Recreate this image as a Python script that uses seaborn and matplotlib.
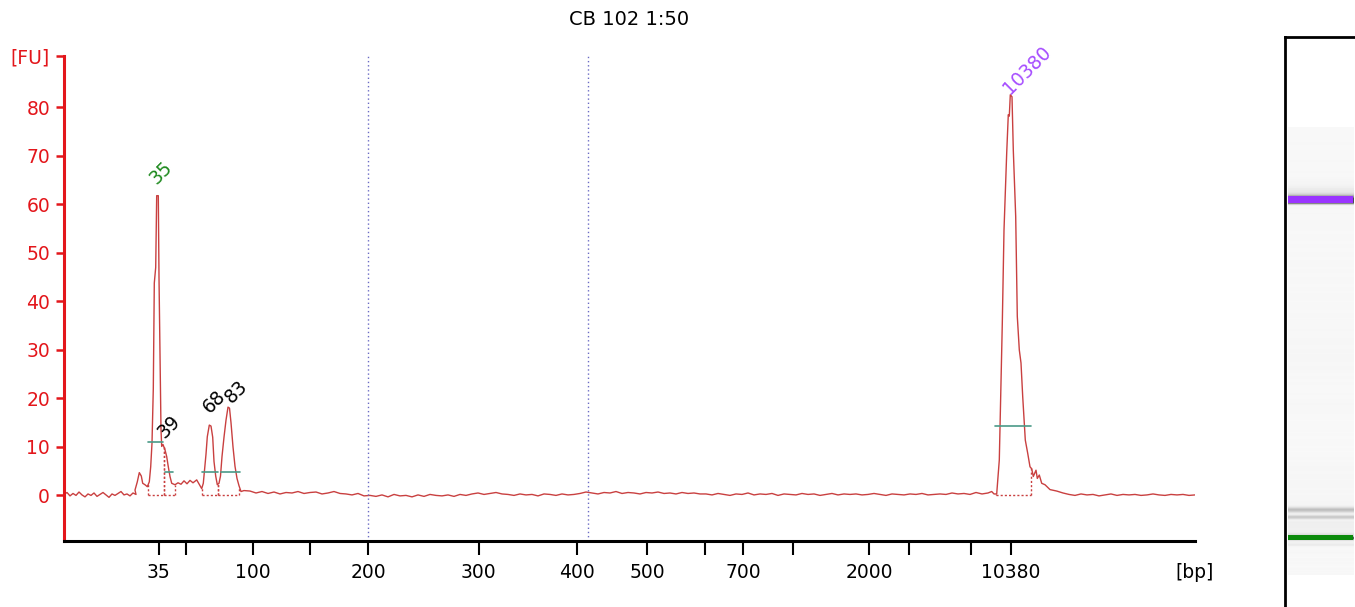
import numpy as np
import pandas as pd
import matplotlib
matplotlib.use("Agg")
import matplotlib.pyplot as plt
import matplotlib.transforms as mtransforms
import seaborn as sns

# position along the run (0 = left end of the window), ladder sizes at each position
ladder_pos = [94.5, 122, 188.5, 246, 304, 414.6, 513, 583, 641, 679, 729, 805, 845, 907, 947]
ladder_bp = [35, 50, 100, 150, 200, 300, 400, 500, 600, 700, 1000, 2000, 3000, 7000, 10380]
ladder_shown = [35, 100, 200, 300, 400, 500, 700, 2000, 10380]

# region markers (dotted vertical lines)
region_pos = [304, 524]

# trace: baseline before the lower marker (start 0, every 3)
base_left = [0.2, 0.6, -0.1, 0.4, 0.0, 0.7, 0.1, -0.3, 0.3, 0.0, 0.5, -0.2, 0.2, 0.6, 0.1,
             -0.4, 0.3, 0.0, 0.4, 0.8, 0.1, 0.3, -0.1, 0.5, 0.2]

# lower marker + small fragments
peaks_low_pos = [71, 73.3, 75.3, 77.3, 78.7, 81, 83.3, 85.3, 86.7, 88, 89.3, 90.3, 91.7, 92.7,
                 94.3, 95, 96, 97, 97.7, 99, 101, 102.7, 104.3, 106, 107.7, 111, 114, 117,
                 120, 123, 126, 129, 132.7, 136, 137.7, 139.3, 142, 143.3, 145.3, 147, 148.7,
                 150, 151.7, 153.3, 155, 156.5, 158, 160, 162, 164, 165.5, 167, 169, 171,
                 173, 175, 177, 180]
peaks_low_fu = [1.1, 2.8, 4.7, 4.0, 2.5, 2.2, 1.8, 2.8, 5.9, 10.8, 22, 43.8, 47, 61.8,
                61.8, 45, 30, 13.5, 10.1, 10.5, 9.4, 8, 5.9, 3.9, 2.5, 2.2, 2.6, 2.3,
                3.0, 2.4, 3.1, 2.6, 3.2, 2.0, 1.4, 2.5, 8.5, 12.1, 14.5, 14.3, 12,
                7, 4, 2.2, 2.5, 4.0, 8, 12, 15.5, 18.2, 18.0, 15, 10, 6,
                3.5, 2.0, 0.8, 1.0]

# baseline in the middle of the run (start 186, every 6)
base_mid = [0.9, 0.5, 0.8, 0.4, 0.7, 0.3, 0.6, 0.5, 0.8, 0.4, 0.6, 0.7, 0.3, 0.5, 0.8, 0.4,
            0.3, 0.1, 0.4, -0.1, 0.0,
            -0.2, 0.1, -0.3, 0.2, -0.1, 0.0, -0.3, 0.1, -0.2, 0.2, 0.0, -0.1, 0.1, -0.2, 0.2, 0.0,
            0.3, 0.5, 0.2, 0.4, 0.6, 0.3,
            0.2, 0.0, 0.3, 0.1, 0.2, -0.1, 0.3, 0.2, 0.0, 0.3, 0.1, 0.2,
            0.4, 0.7, 0.5, 0.3, 0.6, 0.5, 0.8, 0.4, 0.6, 0.5, 0.3, 0.6, 0.5, 0.7, 0.4, 0.5,
            0.3, 0.6, 0.4, 0.5, 0.3,
            0.3, 0.1, 0.4, 0.2, 0.0, 0.3, 0.2, 0.5, 0.1, 0.3,
            0.2, 0.4, 0.0, 0.3, 0.2, 0.1, 0.4, 0.2, 0.3, 0.0,
            0.2, 0.4, 0.1, 0.3, 0.2, 0.3, 0.1, 0.2, 0.4, 0.2,
            0.0, 0.3, 0.2, 0.1, 0.3, 0.2, 0.4, 0.1, 0.2, 0.3,
            0.2, 0.5, 0.3, 0.4, 0.2, 0.6, 0.3, 0.5]

# upper marker 10380
upper_pos = [927.7, 930, 932.7, 935.3, 936.7, 938.3, 940, 942.7, 944.3, 945.3, 946.3, 948,
             949.3, 951.7, 953.3, 955.3, 957, 958.7, 961.3, 963.7, 966, 967.7, 969.3, 972,
             973.3, 975.3, 977.7, 981, 986, 992.7, 999]
upper_fu = [0.8, 0.3, 0.3, 7.3, 20.4, 35.5, 54.7, 70.6, 78.5, 78.2, 82.6, 82.2,
            71.2, 57.5, 36.9, 30, 27.3, 20.4, 11.4, 8.7, 5.9, 5.5, 3.9, 5.2,
            3.5, 4.2, 2.5, 2.2, 1.2, 0.9, 0.5]

# baseline after the upper marker (start 1005, every 6)
base_right = [0.2, 0.0, 0.3, 0.1, 0.2, -0.1, 0.1, 0.3, 0.0, 0.2, 0.1, 0.2, 0.0, 0.1, 0.3,
              0.1, 0.0, 0.2, 0.1, 0.2, 0.0, 0.1]

# peak table: label, label anchor, start/end of integration, level of width marker
peak_label = ["35", "39", "68", "83", "10380"]
peak_label_pos = [95, 103, 149, 171, 949]
peak_label_fu = [63.5, 11.1, 16.2, 18.2, 82.0]
peak_label_color = ["#1f8a1f", "black", "black", "black", "#a64dff"]
peak_start = [84.3, 100, 138.3, 154.3, 932]
peak_end = [100, 111, 154.3, 175.3, 967]
width_from = [84, 101, 138, 156.7, 931]
width_to = [99, 109, 154, 176, 967]
width_fu = [11, 4.8, 4.8, 4.8, 14.4]

# gel: coloured marker bands (position ranges)
marker_span = [(88, 100), (939, 957)]
marker_color = ["#0b8a0b", "#9a34ff"]

trace_pos = np.concatenate([0 + 3 * np.arange(len(base_left)), peaks_low_pos,
                            186 + 6 * np.arange(len(base_mid)), upper_pos,
                            1005 + 6 * np.arange(len(base_right))])
trace_fu = np.concatenate([base_left, peaks_low_fu, base_mid, upper_fu, base_right])
df = pd.DataFrame({"pos": trace_pos, "fu": trace_fu})

sns.set_style("white")
plt.rcParams["font.family"] = ["DejaVu Sans"]
plt.rcParams["text.color"] = "black"
red = "#e3161b"
trace_col = "#c94040"

fig = plt.figure(figsize=(13.55, 6.07), dpi=100)
ax = fig.add_axes([64 / 1355, 66 / 607, 1131 / 1355, 485 / 607])

sns.lineplot(data=df, x="pos", y="fu", ax=ax, color=trace_col, linewidth=1,
             estimator=None, sort=False)

for p in region_pos:
    ax.axvline(p, color="#6b6bc4", linestyle=(0, (1, 2)), linewidth=1)

for i in range(len(peak_label)):
    s, e = peak_start[i], peak_end[i]
    ax.plot([s, e], [0, 0], color=trace_col, linestyle=(0, (1.5, 1.5)), linewidth=1)
    for b in (s, e):
        ax.plot([b, b], [0, np.interp(b, trace_pos, trace_fu)], color=trace_col,
                linestyle=(0, (1.5, 1.5)), linewidth=1)
    ax.plot([width_from[i], width_to[i]], [width_fu[i], width_fu[i]],
            color="#4a9a88", linewidth=1.2)
    ax.text(peak_label_pos[i], peak_label_fu[i], peak_label[i], rotation=45,
            rotation_mode="anchor", ha="left", va="bottom", fontsize=13.5,
            color=peak_label_color[i])

ax.set_xlim(0, 1131)
ax.set_ylim(-9.4, 90.6)
ax.set_xticks(ladder_pos)
ax.set_xticklabels([str(b) if b in ladder_shown else "" for b in ladder_bp])
ax.set_yticks([0, 10, 20, 30, 40, 50, 60, 70, 80, 90.6])
ax.set_yticklabels(["0", "10", "20", "30", "40", "50", "60", "70", "80", "[FU]"])
ax.set_xlabel("")
ax.set_ylabel("")
ax.tick_params(axis="x", direction="out", length=10, width=1.5, pad=6,
               labelsize=13.5, colors="black", bottom=True)
ax.tick_params(axis="y", direction="out", length=6, width=1.8, pad=4,
               labelsize=13.5, colors=red, left=True)
for side in ("top", "right"):
    ax.spines[side].set_visible(False)
ax.spines["left"].set_color(red)
ax.spines["left"].set_linewidth(2.2)
ax.spines["bottom"].set_color("black")
ax.spines["bottom"].set_linewidth(2.2)
ax.set_title("CB 102 1:50", fontsize=14, pad=22, color="black")

tr = mtransforms.blended_transform_factory(ax.transAxes, fig.transFigure)
ax.text(1.0, 35 / 607, "[bp]", transform=tr, ha="center", va="center",
        fontsize=13.5, color="black")

# gel lane
gax = fig.add_axes([1285 / 1355, 0, 70 / 1355, 570 / 607])
grid = np.linspace(0, 1131, 1400)
gray = np.clip(0.975 - 0.013 * np.interp(grid, trace_pos, trace_fu), 0.3, 1.0)
img = np.repeat(gray[:, None], 3, axis=1)[:, None, :]
gax.imshow(img, extent=[0.04, 0.97, 0, 1131], origin="lower", aspect="auto",
           interpolation="bilinear")
for (lo, hi), c in zip(marker_span, marker_color):
    gax.axhspan(lo, hi, xmin=0.04, xmax=0.97, color=c, linewidth=0)
gax.set_xlim(0, 1)
gax.set_ylim(-81.3, 1358.8)
gax.set_xticks([])
gax.set_yticks([])
for side in ("right", "bottom"):
    gax.spines[side].set_visible(False)
for side in ("left", "top"):
    gax.spines[side].set_color("black")
    gax.spines[side].set_linewidth(2)

fig.savefig("out.png", dpi=100)
